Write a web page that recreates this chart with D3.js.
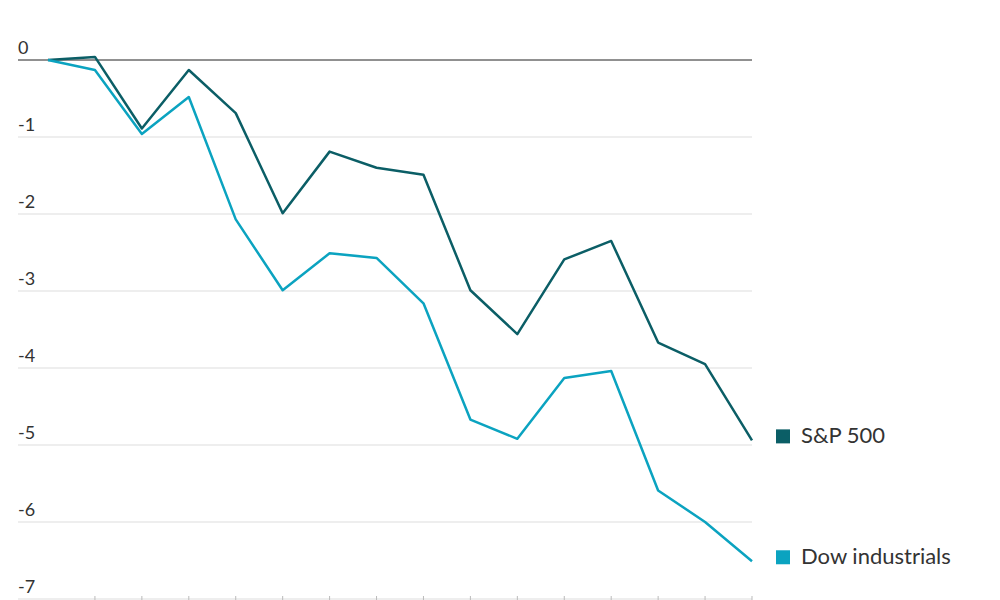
<!DOCTYPE html><html><head><meta charset="utf-8">
<script src="https://cdn.jsdelivr.net/npm/d3@7"></script>
<style>body{margin:0;background:#fff}</style></head><body>
<svg id="c" width="1000" height="600"></svg>
<script>
const sp500 = [0, 0.04, -0.89, -0.13, -0.69, -1.99, -1.19, -1.4, -1.49, -2.99, -3.56, -2.59, -2.35, -3.67, -3.95, -4.94];
const dow = [0, -0.13, -0.96, -0.48, -2.07, -2.99, -2.51, -2.57, -3.16, -4.67, -4.92, -4.13, -4.04, -5.59, -6.0, -6.51];
const yTicks = [0, -1, -2, -3, -4, -5, -6, -7];
const seriesNames = ["S&P 500", "Dow industrials"];
const colors = ["#0b5e66", "#0ba3c0"];

const svg = d3.select("#c");
const x = d3.scaleLinear().domain([0, sp500.length - 1]).range([48, 752]);
const y = d3.scaleLinear().domain([0, -7]).range([60, 599]);
const font = "Lato, 'Noto Sans', sans-serif";

yTicks.forEach(t => {
  svg.append("line").attr("x1", 18).attr("x2", 752).attr("y1", y(t)).attr("y2", y(t))
    .attr("stroke", t === 0 ? "#222" : "#ddd").attr("stroke-width", 1);
  svg.append("text").attr("x", 18).attr("y", y(t) - 6).text(t).attr("font-family", font)
    .attr("font-size", 18).attr("fill", "#333");
});
d3.range(1, sp500.length).forEach(i => {
  svg.append("line").attr("x1", x(i)).attr("x2", x(i)).attr("y1", 596).attr("y2", 600).attr("stroke", "#bbb");
});
const line = d3.line().x((d, i) => x(i)).y(d => y(d));
[sp500, dow].forEach((s, k) => {
  svg.append("path").datum(s).attr("d", line).attr("fill", "none").attr("stroke", colors[k]).attr("stroke-width", 2.5).attr("stroke-linejoin", "round");
});
[[sp500, 0], [dow, 1]].forEach(([s, k]) => {
  const yy = y(s[s.length - 1]) - 4;
  svg.append("rect").attr("x", 776).attr("y", yy - 7).attr("width", 14).attr("height", 14).attr("fill", colors[k]);
  svg.append("text").attr("x", 801).attr("y", yy + 7).text(seriesNames[k]).attr("font-family", font).attr("font-size", 22).attr("fill", "#333");
});
</script></body></html>
